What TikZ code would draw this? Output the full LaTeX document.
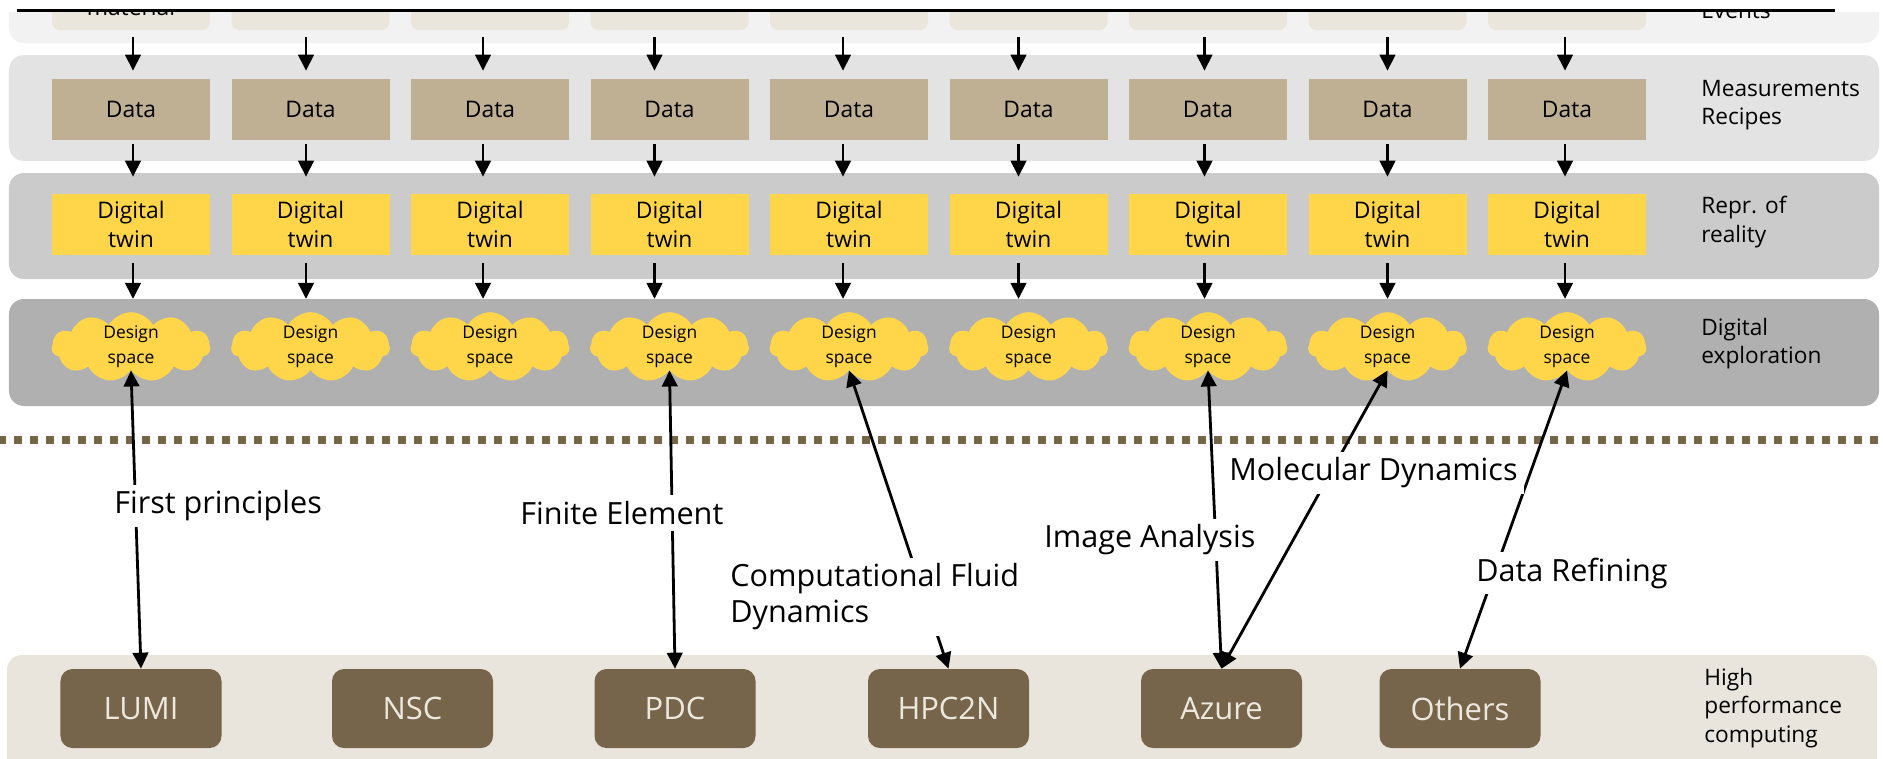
\documentclass[tikz,border=0pt]{standalone}
\usepackage{fontspec}
\setmainfont{Open Sans}
\usetikzlibrary{arrows.meta,%
                shapes.symbols,%
                positioning}

\definecolor{bandA}{HTML}{F2F2F2}
\definecolor{bandB}{HTML}{E3E3E3}
\definecolor{bandC}{HTML}{CBCBCB}
\definecolor{bandD}{HTML}{B0B0B0}
\definecolor{bandE}{HTML}{E9E5DC}
\definecolor{srcbeige}{HTML}{EBE6DC}
\definecolor{datatan}{HTML}{BFAF93}
\definecolor{twinyellow}{HTML}{FFD64A}
\definecolor{hpcbrown}{HTML}{76654A}
\definecolor{hpctext}{HTML}{EDE8DE}

\begin{document}
\begin{tikzpicture}[x=0.2mm, y=-0.2mm,
band/.style={rectangle, rounded corners=3mm, minimum width=374mm, inner sep=0pt},
%
sourcebox/.style={rectangle, rounded corners=1.6mm, fill=srcbeige, minimum width=31.6mm,
minimum height=12mm, inner sep=0pt},
%
databox/.style={rectangle, fill=datatan, minimum width=31.6mm, minimum height=12.2mm,
inner sep=0pt, font=\fontsize{13pt}{16.5pt}\selectfont},
%
twinbox/.style={rectangle, fill=twinyellow, minimum width=31.6mm, minimum height=12.2mm,
inner sep=0pt, align=center, font=\fontsize{13pt}{16.5pt}\selectfont},
%
designcloud/.style={cloud, cloud puffs=11, cloud puff arc=120, cloud ignores aspect,
fill=twinyellow, minimum width=31.8mm, minimum height=12mm, inner sep=0pt,
align=center, font=\fontsize{9.9pt}{14.2pt}\selectfont},
%
hpc/.style={rectangle, rounded corners=2.4mm, fill=hpcbrown, text=hpctext,
minimum width=32.2mm, minimum height=15.8mm, font=\fontsize{17.6pt}{20pt}\selectfont},
%
bandlabel/.style={anchor=west, align=left, inner sep=0pt,
font=\fontsize{12.9pt}{16pt}\selectfont},
%
technique/.style={fill=white, anchor=west, align=left, inner sep=1.2mm,
font=\fontsize{17.4pt}{20.5pt}\selectfont},
%
flow/.style={-{Triangle[length=3.2mm, width=3.1mm]}, line width=.56mm},
%
link/.style={{Triangle[length=3.2mm, width=3.1mm]}-{Triangle[length=3.2mm, width=3.1mm]},
line width=.56mm}]

\useasboundingbox (0,0) rectangle (1883,758);

\begin{scope}
  \clip (0,12) rectangle (1883,758);
  \node[band, fill=bandA, minimum height=28.6mm] (rawband) at (944,-28.5) {};
  \node[band, fill=bandB, minimum height=21.2mm] (measureband) at (944,108) {};
  \node[band, fill=bandC, minimum height=21.2mm] (reprband) at (944,226) {};
  \node[band, fill=bandD, minimum height=21.4mm] (exploreband) at (944,352.5) {};
  \node[band, fill=bandE, minimum height=29mm] (hpcband) at (942,727.5) {};
  %%%%%%%%%%%%%%%%%%%%%%%%%%%%%%%%%%
  \node[sourcebox] (src1) at (131,0) {};
  \node[sourcebox] (src2) at (310.5,0) {};
  \node[sourcebox] (src3) at (490,0) {};
  \node[sourcebox] (src4) at (669.5,0) {};
  \node[sourcebox] (src5) at (849,0) {};
  \node[sourcebox] (src6) at (1028.5,0) {};
  \node[sourcebox] (src7) at (1208,0) {};
  \node[sourcebox] (src8) at (1387.5,0) {};
  \node[sourcebox] (src9) at (1567,0) {};
  \node[anchor=base, inner sep=0pt, font=\fontsize{13pt}{16.5pt}\selectfont] (srctext) at (131,15) {material};
  \node[bandlabel, anchor=base west] (events) at (1701,18) {Events};
\end{scope}

\begin{scope}
  \node[databox] (data1) at (131,109.5) {Data};
  \node[databox] (data2) at (310.5,109.5) {Data};
  \node[databox] (data3) at (490,109.5) {Data};
  \node[databox] (data4) at (669.5,109.5) {Data};
  \node[databox] (data5) at (849,109.5) {Data};
  \node[databox] (data6) at (1028.5,109.5) {Data};
  \node[databox] (data7) at (1208,109.5) {Data};
  \node[databox] (data8) at (1387.5,109.5) {Data};
  \node[databox] (data9) at (1567,109.5) {Data};
  \node[bandlabel] (measure) at (1701,105) {Measurements\\Recipes};
  %%%%%%%%%%%%%%%%%%%%%%%%%%%%%%%%%%
  \node[twinbox] (twin1) at (131,224.5) {Digital\\twin};
  \node[twinbox] (twin2) at (310.5,224.5) {Digital\\twin};
  \node[twinbox] (twin3) at (490,224.5) {Digital\\twin};
  \node[twinbox] (twin4) at (669.5,224.5) {Digital\\twin};
  \node[twinbox] (twin5) at (849,224.5) {Digital\\twin};
  \node[twinbox] (twin6) at (1028.5,224.5) {Digital\\twin};
  \node[twinbox] (twin7) at (1208,224.5) {Digital\\twin};
  \node[twinbox] (twin8) at (1387.5,224.5) {Digital\\twin};
  \node[twinbox] (twin9) at (1567,224.5) {Digital\\twin};
  \node[bandlabel] (repr) at (1701,222) {Repr. of\\reality};
  %%%%%%%%%%%%%%%%%%%%%%%%%%%%%%%%%%
  \node[designcloud] (space1) at (131,347) {Design\\space};
  \node[designcloud] (space2) at (310.5,347) {Design\\space};
  \node[designcloud] (space3) at (490,347) {Design\\space};
  \node[designcloud] (space4) at (669.5,347) {Design\\space};
  \node[designcloud] (space5) at (849,347) {Design\\space};
  \node[designcloud] (space6) at (1028.5,347) {Design\\space};
  \node[designcloud] (space7) at (1208,347) {Design\\space};
  \node[designcloud] (space8) at (1387.5,347) {Design\\space};
  \node[designcloud] (space9) at (1567,347) {Design\\space};
  \node[bandlabel] (exploration) at (1701,344) {Digital\\exploration};
\end{scope}

\begin{scope}
  \node[hpc] (lumi) at (141,708.5) {LUMI};
  \node[hpc] (nsc) at (412.5,708.5) {NSC};
  \node[hpc] (pdc) at (675,708.5) {PDC};
  \node[hpc] (hpc2n) at (948.5,708.5) {HPC2N};
  \node[hpc] (azure) at (1221.5,708.5) {Azure};
  \node[hpc] (others) at (1460,708.5) {Others};
  \node[bandlabel] (computing) at (1704,708) {High\\performance\\computing};
\end{scope}

\draw[hpcbrown, line width=1.6mm, dash pattern=on 1.6mm off 1.6mm] (-1.7,440) -- (1883,440);

\begin{scope}
  \draw[flow, shorten <=1.4mm, shorten >=1.6mm] ([xshift=.4mm]src1.south) -- ([xshift=.4mm]data1.north);
  \draw[flow, shorten <=1.4mm, shorten >=1.6mm] ([xshift=-.9mm]src2.south) -- ([xshift=-.9mm]data2.north);
  \draw[flow, shorten <=1.4mm, shorten >=1.6mm] ([xshift=-1.4mm]src3.south) -- ([xshift=-1.4mm]data3.north);
  \draw[flow, shorten <=1.4mm, shorten >=1.6mm] ([xshift=-3mm]src4.south) -- ([xshift=-3mm]data4.north);
  \draw[flow, shorten <=1.4mm, shorten >=1.6mm] ([xshift=-1.2mm]src5.south) -- ([xshift=-1.2mm]data5.north);
  \draw[flow, shorten <=1.4mm, shorten >=1.6mm] ([xshift=-2mm]src6.south) -- ([xshift=-2mm]data6.north);
  \draw[flow, shorten <=1.4mm, shorten >=1.6mm] ([xshift=-.7mm]src7.south) -- ([xshift=-.7mm]data7.north);
  \draw[flow, shorten <=1.4mm, shorten >=1.6mm] (src8.south) -- (data8.north);
  \draw[flow, shorten <=1.4mm, shorten >=1.6mm] ([xshift=-.4mm]src9.south) -- ([xshift=-.4mm]data9.north);
  %%%%%%%%%%%%%%%%%%%%%%%%%%%%%%%%%%%%%
  \draw[flow, shorten <=.8mm, shorten >=3.4mm] ([xshift=.4mm]data1.south) -- ([xshift=.4mm]twin1.north);
  \draw[flow, shorten <=.8mm, shorten >=3.4mm] ([xshift=-.9mm]data2.south) -- ([xshift=-.9mm]twin2.north);
  \draw[flow, shorten <=.8mm, shorten >=3.4mm] ([xshift=-1.4mm]data3.south) -- ([xshift=-1.4mm]twin3.north);
  \draw[flow, shorten <=.8mm, shorten >=3.4mm] ([xshift=-3mm]data4.south) -- ([xshift=-3mm]twin4.north);
  \draw[flow, shorten <=.8mm, shorten >=3.4mm] ([xshift=-1.2mm]data5.south) -- ([xshift=-1.2mm]twin5.north);
  \draw[flow, shorten <=.8mm, shorten >=3.4mm] ([xshift=-2mm]data6.south) -- ([xshift=-2mm]twin6.north);
  \draw[flow, shorten <=.8mm, shorten >=3.4mm] ([xshift=-.7mm]data7.south) -- ([xshift=-.7mm]twin7.north);
  \draw[flow, shorten <=.8mm, shorten >=3.4mm] (data8.south) -- (twin8.north);
  \draw[flow, shorten <=.8mm, shorten >=3.4mm] ([xshift=-.4mm]data9.south) -- ([xshift=-.4mm]twin9.north);
  %%%%%%%%%%%%%%%%%%%%%%%%%%%%%%%%%%%%%
  \draw[flow, shorten <=1.6mm, shorten >=2.6mm] ([xshift=.4mm]twin1.south) -- ([xshift=.4mm]space1.north);
  \draw[flow, shorten <=1.6mm, shorten >=2.6mm] ([xshift=-.9mm]twin2.south) -- ([xshift=-.9mm]space2.north);
  \draw[flow, shorten <=1.6mm, shorten >=2.6mm] ([xshift=-1.4mm]twin3.south) -- ([xshift=-1.4mm]space3.north);
  \draw[flow, shorten <=1.6mm, shorten >=2.6mm] ([xshift=-3mm]twin4.south) -- ([xshift=-3mm]space4.north);
  \draw[flow, shorten <=1.6mm, shorten >=2.6mm] ([xshift=-1.2mm]twin5.south) -- ([xshift=-1.2mm]space5.north);
  \draw[flow, shorten <=1.6mm, shorten >=2.6mm] ([xshift=-2mm]twin6.south) -- ([xshift=-2mm]space6.north);
  \draw[flow, shorten <=1.6mm, shorten >=2.6mm] ([xshift=-.7mm]twin7.south) -- ([xshift=-.7mm]space7.north);
  \draw[flow, shorten <=1.6mm, shorten >=2.6mm] (twin8.south) -- (space8.north);
  \draw[flow, shorten <=1.6mm, shorten >=2.6mm] ([xshift=-.4mm]twin9.south) -- ([xshift=-.4mm]space9.north);
  %%%%%%%%%%%%%%%%%%%%%%%%%%%%%%%%%%%%%
  \draw[link] (space1.south) -- (lumi.north);
  \draw[link] (space4.south) -- (pdc.north);
  \draw[link] (space5.south) -- (hpc2n.north);
  \draw[link] (space7.south) -- (azure.north);
  \draw[link] (space8.south) -- (azure.north);
  \draw[link] (space9.south) -- (others.north);
\end{scope}

\node[technique] (firstprinciples) at (108,506) {First principles};
\node[technique] (finiteelement) at (514,513) {Finite Element};
\node[technique] (fluiddynamics) at (724,597) {Computational Fluid\\Dynamics};
\node[technique] (imageanalysis) at (1038,540) {Image Analysis};
\node[technique] (moleculardynamics) at (1223,473) {Molecular Dynamics};
\node[technique] (datarefining) at (1470,573) {Data Refining};

\draw[line width=.6mm] (17,10.5) -- (1835,10.5);

\end{tikzpicture}
\end{document}
